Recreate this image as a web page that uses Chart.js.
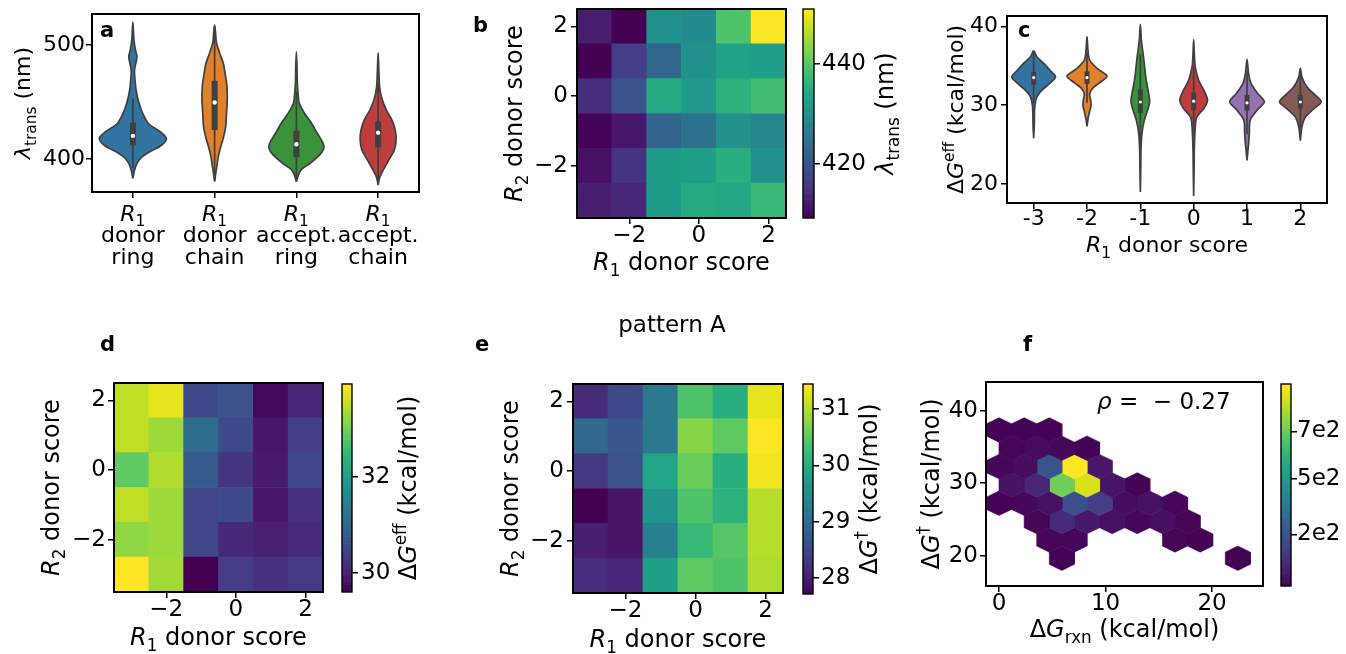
<!DOCTYPE html>
<html>
<head>
<meta charset="utf-8">
<script src="https://cdn.jsdelivr.net/npm/chart.js@4.4.1/dist/chart.umd.min.js"></script>
<style>
  html, body { margin: 0; padding: 0; background: #fff; }
  body { width: 1346px; height: 654px; position: relative; overflow: hidden; }
  .layer { position: absolute; left: 0; top: 0; width: 1346px; height: 654px; }
</style>
</head>
<body>
<script>
"use strict";

// ---------- panel a : violins of lambda_trans per R1 group
const aGroups = [['donor', 'ring'], ['donor', 'chain'], ['accept.', 'ring'], ['accept.', 'chain']];
const aColors = ['#3274a1', '#e1812c', '#3a923a', '#c03d3e'];
const aViolinY = [
  [383, 390, 396, 401, 406, 412, 418, 424, 431, 440, 450, 460, 470, 478, 485, 490, 496, 505, 520],
  [380, 388, 395, 402, 410, 418, 428, 440, 452, 464, 474, 484, 493, 502, 510, 517.5],
  [380, 386, 391, 396, 403.5, 409.4, 414, 422.5, 431.3, 440, 449, 458, 466, 480, 494],
  [377, 384, 390, 399, 408, 417, 425, 434, 443, 452, 462, 475, 493]
];
const aViolinW = [
  [0, 0.02, 0.05, 0.1, 0.2, 0.35, 0.41, 0.33, 0.19, 0.12, 0.07, 0.04, 0.025, 0.02, 0.04, 0.05, 0.03, 0.012, 0],
  [0, 0.015, 0.03, 0.045, 0.072, 0.105, 0.135, 0.145, 0.155, 0.15, 0.13, 0.105, 0.06, 0.022, 0.012, 0],
  [0, 0.025, 0.065, 0.165, 0.285, 0.335, 0.325, 0.255, 0.185, 0.1, 0.035, 0.02, 0.012, 0.008, 0],
  [0, 0.02, 0.06, 0.13, 0.2, 0.22, 0.21, 0.17, 0.1, 0.05, 0.02, 0.01, 0]
];
const aQ1 = [411.7, 425.4, 401.5, 410];
const aQ3 = [431.8, 468.4, 424.8, 433];
const aMedian = [420.2, 449.4, 412.9, 423];
const aWhiskerLo = [392, 381, 381, 378];
const aWhiskerHi = [453, 516, 459, 466];
const aYTicks = [400, 500];

// ---------- panel c : violins of dG_eff per R1 donor score
const cLabels = ['-3', '-2', '-1', '0', '1', '2'];
const cColors = ['#3274a1', '#e1812c', '#3a923a', '#c03d3e', '#9372b2', '#845b53'];
const cViolinY = [
  [25.8, 27.5, 29.8, 31.05, 31.9, 32.75, 33.58, 34.4, 35.3, 36.1, 36.87],
  [27.3, 28.3, 29.2, 29.9, 30.6, 31.4, 32.1, 32.75, 33.67, 34.65, 35.7, 37, 38.7],
  [19.0, 22, 24.3, 26.4, 28.1, 29.37, 30.42, 31.48, 33.16, 34.85, 36.1, 38.2, 40.25],
  [18.5, 22, 24.3, 27.25, 28.5, 29.58, 30.63, 31.9, 33.16, 34.85, 36.5, 38.3],
  [23.0, 25.15, 26.4, 28.1, 29.37, 30.42, 31.48, 32.75, 34.0, 35.8],
  [25.5, 27.25, 28.5, 29.58, 30.42, 31.27, 32.3, 33.58, 34.65]
];
const cViolinW = [
  [0, 0.012, 0.02, 0.06, 0.156, 0.3, 0.41, 0.31, 0.19, 0.063, 0],
  [0, 0.02, 0.05, 0.075, 0.07, 0.05, 0.1, 0.22, 0.375, 0.19, 0.05, 0.018, 0],
  [0, 0.008, 0.012, 0.03, 0.075, 0.137, 0.175, 0.156, 0.11, 0.08, 0.06, 0.02, 0],
  [0, 0.008, 0.012, 0.03, 0.06, 0.19, 0.26, 0.19, 0.094, 0.03, 0.012, 0],
  [0, 0.03, 0.044, 0.06, 0.19, 0.325, 0.2, 0.075, 0.03, 0],
  [0, 0.03, 0.094, 0.26, 0.39, 0.28, 0.125, 0.03, 0]
];
const cQ1 = [32.6, 32.7, 29.0, 29.4, 29.3, 29.6];
const cQ3 = [34.2, 34.3, 32.0, 31.6, 31.3, 31.3];
const cMedian = [33.5, 33.5, 30.4, 30.5, 30.3, 30.4];
const cWhiskerLo = [30.2, 30.3, 24.5, 26.1, 26.3, 27.05];
const cWhiskerHi = [36.6, 36.7, 36.5, 34.9, 34.3, 33.85];
const cYTicks = [20, 30, 40];

// ---------- heatmaps b, d, e : rows are R2 = 2 .. -3, columns R1 = -3 .. 2
const heatX = [-3, -2, -1, 0, 1, 2];
const heatY = [2, 1, 0, -1, -2, -3];
const heatTicks = [-2, 0, 2];
const bValues = [
  [412.5, 409.2, 430.1, 428.8, 439.3, 451.0],
  [409.2, 416.7, 423.0, 430.1, 433.0, 432.6],
  [414.6, 419.6, 434.3, 431.4, 436.0, 438.0],
  [409.4, 411.7, 422.6, 424.7, 430.5, 428.4],
  [410.9, 415.5, 431.8, 432.6, 435.5, 430.1],
  [412.5, 413.8, 431.8, 434.3, 433.9, 437.2]
];
const bCbTicks = [420, 440];
const dValues = [
  [33.51, 33.77, 30.55, 30.69, 29.69, 30.03],
  [33.51, 33.29, 31.12, 30.55, 29.86, 30.38],
  [32.86, 33.42, 30.82, 30.25, 29.90, 30.51],
  [33.51, 33.29, 30.51, 30.55, 29.86, 30.21],
  [33.20, 33.29, 30.51, 30.08, 29.99, 30.12],
  [33.94, 33.33, 29.60, 30.38, 30.21, 30.34]
];
const dCbTicks = [30, 32];
const eValues = [
  [28.17, 28.54, 29.21, 30.40, 30.06, 31.29],
  [28.98, 28.72, 29.21, 30.77, 30.51, 31.44],
  [28.32, 28.65, 29.88, 30.58, 30.06, 31.37],
  [27.72, 27.91, 29.62, 30.40, 30.10, 31.03],
  [28.02, 27.91, 29.32, 30.21, 30.44, 31.03],
  [28.20, 28.09, 29.80, 30.51, 30.40, 30.99]
];
const eCbTicks = [28, 29, 30, 31];

// ---------- panel f : hexbin counts of dG_dagger vs dG_rxn
const hexX = [0, 2.36, 4.72,
  1.18, 3.54, 5.9, 8.26,
  0, 2.36, 4.72, 7.08, 9.44,
  1.18, 3.54, 5.9, 8.26, 10.62, 12.98,
  0, 2.36, 4.72, 7.08, 9.44, 11.8, 14.16, 16.52,
  3.54, 5.9, 8.26, 10.62, 12.98, 15.34, 17.7,
  4.72, 7.08, 16.52, 18.88,
  5.9, 22.42];
const hexY = [37.34, 37.34, 37.34,
  34.81, 34.81, 34.81, 34.81,
  32.28, 32.28, 32.28, 32.28, 32.28,
  29.75, 29.75, 29.75, 29.75, 29.75, 29.75,
  27.22, 27.22, 27.22, 27.22, 27.22, 27.22, 27.22, 27.22,
  24.69, 24.69, 24.69, 24.69, 24.69, 24.69, 24.69,
  22.16, 22.16, 22.16, 22.16,
  19.63, 19.63];
const hexCount = [5, 8, 5,
  10, 25, 15, 5,
  10, 30, 240, 940, 55,
  45, 100, 730, 880, 50, 8,
  5, 15, 40, 230, 170, 30, 40, 10,
  12, 110, 60, 40, 15, 35, 12,
  10, 15, 12, 8,
  5, 3];
const fXTicks = [0, 10, 20];
const fYTicks = [20, 30, 40];
const fCbTicks = [240, 500, 720];
const fCbLabels = ['2e2', '5e2', '7e2'];
const fCbMax = 940;

// ---------- helpers
const W = 1346, H = 654;
const FAMILY = 'DejaVu Sans';
const EDGE = '#3f3f3f';
const VIRIDIS = ['#440154', '#48186a', '#472d7b', '#424086', '#3b528b', '#33638d', '#2c728e', '#26828e',
  '#21918c', '#1fa088', '#28ae80', '#3fbc73', '#5ec962', '#84d44b', '#addc30', '#d8e219', '#fde725'];

function rgb(h) {
  return [parseInt(h.slice(1, 3), 16), parseInt(h.slice(3, 5), 16), parseInt(h.slice(5, 7), 16)];
}
function viridis(t) {
  t = Math.max(0, Math.min(1, t));
  const p = t * 16, i = Math.min(15, Math.floor(p)), f = p - i;
  const a = rgb(VIRIDIS[i]), b = rgb(VIRIDIS[i + 1]);
  return 'rgb(' + a.map((v, k) => Math.round(v + (b[k] - v) * f)).join(',') + ')';
}

const T = t => ({ t });
const I = t => ({ t, it: true });
const SUB = t => ({ t, sub: true });
const SUP = t => ({ t, sup: true });
const B = t => ({ t, b: true });

const lblLambda = [I('λ'), SUB('trans'), T(' (nm)')];
const lblR1 = [I('R'), SUB('1'), T(' donor score')];
const lblR2 = [I('R'), SUB('2'), T(' donor score')];
const lblGeff = [T('Δ'), I('G'), SUP('eff'), T(' (kcal/mol)')];
const lblGdag = [T('Δ'), I('G'), SUP('†'), T(' (kcal/mol)')];
const lblGrxn = [T('Δ'), I('G'), SUB('rxn'), T(' (kcal/mol)')];
const lblRho = [I('ρ'), T(' =  − 0.27')];

function drawRich(ctx, item) {
  const size = item.size;
  let w = 0;
  const parts = item.runs.map(r => {
    const s = (r.sub || r.sup) ? size * 0.7 : size;
    const font = (r.b ? 'bold ' : '') + (r.it ? 'italic ' : '') + s + "px '" + FAMILY + "'";
    ctx.font = font;
    const mw = ctx.measureText(r.t).width;
    w += mw;
    return { t: r.t, font, w: mw, dy: r.sub ? size * 0.25 : (r.sup ? -size * 0.42 : 0) };
  });
  ctx.save();
  ctx.translate(item.x, item.y);
  if (item.rot) ctx.rotate(item.rot);
  ctx.fillStyle = '#000';
  ctx.textBaseline = 'alphabetic';
  ctx.textAlign = 'left';
  let cx = item.align === 'left' ? 0 : (item.align === 'right' ? -w : -w / 2);
  parts.forEach(p => {
    ctx.font = p.font;
    ctx.fillText(p.t, cx, p.dy);
    cx += p.w;
  });
  ctx.restore();
}

function textPlugin(items) {
  return { id: 'texts', afterDraw(chart) { items.forEach(it => drawRich(chart.ctx, it)); } };
}
function framePlugin(lw) {
  return {
    id: 'frame',
    afterDatasetsDraw(chart) {
      const a = chart.chartArea, ctx = chart.ctx;
      ctx.save();
      ctx.strokeStyle = '#000';
      ctx.lineWidth = lw;
      ctx.strokeRect(a.left, a.top, a.right - a.left, a.bottom - a.top);
      ctx.restore();
    }
  };
}

function axis(min, max, ticks, size, pad, extra, tickExtra) {
  return Object.assign({
    type: 'linear', min, max, offset: false,
    afterBuildTicks: s => { s.ticks = ticks.map(v => ({ value: v })); },
    grid: { display: true, offset: false, drawOnChartArea: false, drawTicks: true, tickLength: 6, tickWidth: 1.5, tickColor: '#000', color: '#000', lineWidth: 1.5 },
    border: { display: false },
    ticks: Object.assign({
      color: '#000', font: { family: FAMILY, size }, padding: pad, maxRotation: 0, minRotation: 0, autoSkip: false,
      callback: v => String(v).replace('-', '\u2212')
    }, tickExtra || {})
  }, extra || {});
}

// every chart covers the whole page; its plot area is pinned to box = [x0, y0, x1, y1]
function addChart(box, cfg, axisRight) {
  const [x0, y0, x1, y1] = box;
  const div = document.createElement('div');
  div.className = 'layer';
  const cv = document.createElement('canvas');
  div.appendChild(cv);
  document.body.appendChild(div);
  const o = cfg.options;
  o.responsive = true;
  o.maintainAspectRatio = false;
  o.animation = false;
  o.events = [];
  o.plugins = { legend: { display: false }, tooltip: { enabled: false } };
  o.layout = { autoPadding: false, padding: { left: axisRight ? x0 : 0, top: y0, right: axisRight ? 0 : W - x1, bottom: 0 } };
  o.scales.x.afterFit = s => { s.height = H - y1; s.paddingLeft = 0; s.paddingRight = 0; };
  o.scales.y.afterFit = s => { s.width = axisRight ? W - x1 : x0; s.paddingTop = 0; s.paddingBottom = 0; };
  return new Chart(cv, cfg);
}

function violinSets(ys, ws, colors, q1, q3, med, lo, hi, boxW, dotR) {
  const sets = [];
  ys.forEach((yArr, i) => {
    const pts = [];
    for (let k = 0; k < yArr.length; k++) pts.push({ x: i + ws[i][k], y: yArr[k] });
    for (let k = yArr.length - 2; k >= 0; k--) pts.push({ x: i - ws[i][k], y: yArr[k] });
    sets.push({ data: pts, showLine: true, fill: 'shape', backgroundColor: colors[i], borderColor: EDGE, borderWidth: 1.7, pointRadius: 0, tension: 0.3, order: 3 });
    sets.push({ data: [{ x: i, y: lo[i] }, { x: i, y: hi[i] }], showLine: true, borderColor: EDGE, borderWidth: 1.7, pointRadius: 0, order: 2 });
    sets.push({ data: [{ x: i, y: q1[i] }, { x: i, y: q3[i] }], showLine: true, borderColor: EDGE, borderWidth: boxW, borderCapStyle: 'butt', pointRadius: 0, order: 1 });
    sets.push({ data: [{ x: i, y: med[i] }], pointRadius: dotR, pointBackgroundColor: '#fff', pointBorderWidth: 0, order: 0 });
  });
  return sets;
}

function heatChart(box, values, yPad, texts) {
  const flat = values.flat();
  const vmin = Math.min(...flat), vmax = Math.max(...flat);
  const data = [];
  heatY.forEach((ry, r) => heatX.forEach((cx, c) => data.push({ x: cx, y: [ry - 0.5, ry + 0.5], v: values[r][c] })));
  addChart(box, {
    type: 'bar',
    data: { datasets: [{
      data, grouped: false, barPercentage: 1, categoryPercentage: 1, borderWidth: 0,
      backgroundColor: ctx => ctx.raw ? viridis((ctx.raw.v - vmin) / (vmax - vmin)) : '#000'
    }] },
    options: { scales: {
      x: axis(-3.5, 2.5, heatTicks, 23, -1.5),
      y: axis(-3.5, 2.5, heatTicks, 23, yPad)
    } },
    plugins: [framePlugin(2), textPlugin(texts)]
  });
  return [vmin, vmax];
}

function colorbar(box, vmin, vmax, ticks, pad, labels, texts) {
  const n = 90, data = [];
  for (let i = 0; i < n; i++) {
    data.push({ x: 'cb', y: [vmin + (vmax - vmin) * i / n, vmin + (vmax - vmin) * (i + 1) / n], t: (i + 0.5) / n });
  }
  const tickExtra = labels ? { callback: (v, i) => labels[i] } : {};
  addChart(box, {
    type: 'bar',
    data: { labels: ['cb'], datasets: [{
      data, barPercentage: 1, categoryPercentage: 1, borderWidth: 0,
      backgroundColor: ctx => ctx.raw ? viridis(ctx.raw.t) : '#000'
    }] },
    options: { scales: {
      x: { type: 'category', offset: true, grid: { display: false }, ticks: { display: false }, border: { display: false } },
      y: axis(vmin, vmax, ticks, 23, pad, { position: 'right' }, tickExtra)
    } },
    plugins: [framePlugin(1.4), textPlugin(texts || [])]
  }, true);
}

const ROT = -Math.PI / 2;

// ---------- panel a
const aCategoryPlugin = {
  id: 'acat',
  afterDraw(chart) {
    const sx = chart.scales.x;
    aGroups.forEach((lines, i) => {
      const x = sx.getPixelForValue(i);
      drawRich(chart.ctx, { runs: [I('R'), SUB('1')], x, y: 220.5, size: 22 });
      drawRich(chart.ctx, { runs: [T(lines[0])], x, y: 242, size: 22 });
      drawRich(chart.ctx, { runs: [T(lines[1])], x, y: 263.5, size: 22 });
    });
  }
};
addChart([92, 14, 419, 192], {
  type: 'scatter',
  data: { datasets: violinSets(aViolinY, aViolinW, aColors, aQ1, aQ3, aMedian, aWhiskerLo, aWhiskerHi, 6, 2.2) },
  options: { scales: {
    x: axis(-0.5, 3.5, [0, 1, 2, 3], 22, 0, {}, { display: false }),
    y: axis(371, 527, aYTicks, 22, 1)
  } },
  plugins: [framePlugin(2), aCategoryPlugin, textPlugin([
    { runs: [B('a')], x: 100, y: 37, size: 21, align: 'left' },
    { runs: lblLambda, x: 30, y: 103, size: 22, rot: ROT }
  ])]
});

// ---------- panel b
const bRange = heatChart([577, 9, 786, 218], bValues, 3, [
  { runs: [B('b')], x: 473, y: 32, size: 21, align: 'left' },
  { runs: lblR2, x: 522, y: 113.5, size: 24, rot: ROT },
  { runs: lblR1, x: 681.5, y: 270, size: 24 }
]);
colorbar([803, 9, 814, 218], bRange[0], bRange[1], bCbTicks, 2, null, [
  { runs: lblLambda, x: 893, y: 113.5, size: 24, rot: ROT }
]);

// ---------- panel c
addChart([1007, 16, 1327, 203], {
  type: 'scatter',
  data: { datasets: violinSets(cViolinY, cViolinW, cColors, cQ1, cQ3, cMedian, cWhiskerLo, cWhiskerHi, 5, 1.6) },
  options: { scales: {
    x: axis(-0.5, 5.5, [0, 1, 2, 3, 4, 5], 22, -3, {}, { callback: (v, i) => cLabels[i] }),
    y: axis(17.6, 41.3, cYTicks, 22, 3)
  } },
  plugins: [framePlugin(2), textPlugin([
    { runs: [B('c')], x: 1018, y: 37, size: 21, align: 'left' },
    { runs: lblGeff, x: 963, y: 109.5, size: 22, rot: ROT },
    { runs: lblR1, x: 1167, y: 252, size: 22 }
  ])]
});

// ---------- panel d
const dRange = heatChart([114, 383, 323, 592], dValues, 2, [
  { runs: [B('d')], x: 100, y: 351, size: 21, align: 'left' },
  { runs: lblR2, x: 59, y: 487.5, size: 24, rot: ROT },
  { runs: lblR1, x: 218.5, y: 645, size: 24 }
]);
colorbar([342, 384, 352, 592], dRange[0], dRange[1], dCbTicks, 3, null, [
  { runs: lblGeff, x: 416, y: 488, size: 24, rot: ROT }
]);

// ---------- panel e
const eRange = heatChart([573, 384, 783, 593], eValues, 3, [
  { runs: [T('pattern A')], x: 672, y: 332, size: 23 },
  { runs: [B('e')], x: 475, y: 351, size: 21, align: 'left' },
  { runs: lblR2, x: 518, y: 488.5, size: 24, rot: ROT },
  { runs: lblR1, x: 678, y: 647, size: 24 }
]);
colorbar([803, 384, 813, 594], eRange[0], eRange[1], eCbTicks, 2, null, [
  { runs: lblGdag, x: 877, y: 489, size: 24, rot: ROT }
]);

// ---------- panel f
const HEX_HALF_W = 1.18, HEX_TIP = 1.687, HEX_SIDE = 0.843;
const hexSets = hexX.map((cx, i) => {
  const cy = hexY[i];
  const col = viridis(hexCount[i] / fCbMax);
  return {
    data: [
      { x: cx, y: cy + HEX_TIP }, { x: cx + HEX_HALF_W, y: cy + HEX_SIDE }, { x: cx + HEX_HALF_W, y: cy - HEX_SIDE },
      { x: cx, y: cy - HEX_TIP }, { x: cx - HEX_HALF_W, y: cy - HEX_SIDE }, { x: cx - HEX_HALF_W, y: cy + HEX_SIDE },
      { x: cx, y: cy + HEX_TIP }
    ],
    showLine: true, fill: 'shape', backgroundColor: col, borderColor: col, borderWidth: 0.6, pointRadius: 0, tension: 0
  };
});
addChart([986, 382, 1263, 586], {
  type: 'scatter',
  data: { datasets: hexSets },
  options: { scales: {
    x: axis(-1.22, 24.78, fXTicks, 23, -1.5),
    y: axis(15.8, 43.96, fYTicks, 23, 2)
  } },
  plugins: [framePlugin(2), textPlugin([
    { runs: [B('f')], x: 1023, y: 351, size: 21, align: 'left' },
    { runs: lblGdag, x: 939, y: 484, size: 24, rot: ROT },
    { runs: lblGrxn, x: 1124.5, y: 637, size: 24 },
    { runs: lblRho, x: 1097, y: 409, size: 23, align: 'left' }
  ])]
});
colorbar([1281, 384, 1291, 586], 0, fCbMax, fCbTicks, 0, fCbLabels);
</script>
</body>
</html>
